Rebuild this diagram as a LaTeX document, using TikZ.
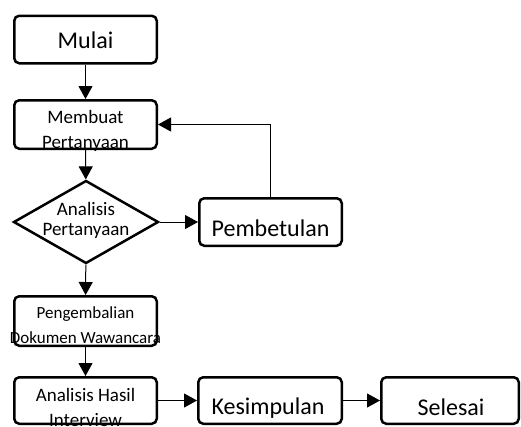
\documentclass[tikz,border=0pt]{standalone}
\usepackage{fontspec}
\setmainfont{Carlito}
\usetikzlibrary{arrows.meta,shapes.geometric}
\begin{document}
\begin{tikzpicture}[x=1pt,y=-1pt,
  box/.style={draw,line width=2.5pt,rounded corners=5pt,rectangle,inner sep=0pt},
  dia/.style={draw,line width=2.5pt,diamond,inner sep=0pt},
  conn/.style={line width=1pt,-{Triangle[length=13pt,width=14pt]}},
  big/.style={font=\fontsize{24}{28}\selectfont},
  mid/.style={font=\fontsize{19}{25}\selectfont,align=center},
  small/.style={font=\fontsize{17}{25}\selectfont,align=center}]
\useasboundingbox (0,0) rectangle (521,426);
% shapes
\node[box,minimum width=142.5pt,minimum height=47.5pt] (mulai) at (85.5,39.5) {};
\node[box,minimum width=142.5pt,minimum height=48.5pt] (buat) at (85.5,124.5) {};
\node[dia,minimum width=145pt,minimum height=83pt] (anal) at (86,222) {};
\node[box,minimum width=142.5pt,minimum height=47.5pt] (betul) at (270.5,222) {};
\node[box,minimum width=142.5pt,minimum height=49.5pt] (kembali) at (85.5,321) {};
\node[box,minimum width=142.5pt,minimum height=46.5pt] (hasil) at (85.5,400.5) {};
\node[box,minimum width=143.5pt,minimum height=46.5pt] (simpul) at (270,400.5) {};
\node[box,minimum width=137.5pt,minimum height=46.5pt] (selesai) at (450,400.5) {};
% texts
\node[big] (tmulai) at (85.5,40) {Mulai};
\node[mid] (tbuat) at (85.5,130.5) {Membuat\\Pertanyaan};
\node[font=\fontsize{19}{20}\selectfont,align=center] (tanal) at (86,220) {Analisis\\Pertanyaan};
\node[big] (tbetul) at (270.5,228) {Pembetulan};
\node[small] (tkembali) at (85.5,325.5) {Pengembalian\\Dokumen Wawancara};
\node[mid] (thasil) at (85.5,407.5) {Analisis Hasil\\Interview};
\node[big] (tsimpul) at (268,408) {Kesimpulan};
\node[big] (tselesai) at (451,407) {Selesai};
% connectors
\draw[conn] (mulai) -- (buat);
\draw[conn] (buat) -- (anal);
\draw[conn] (anal) -- (betul);
\draw[conn] (betul.north) |- (buat.east);
\draw[conn] (anal) -- (kembali);
\draw[conn] (kembali) -- (hasil);
\draw[conn] (hasil) -- (simpul);
\draw[conn] (simpul) -- (selesai);
\end{tikzpicture}
\end{document}
